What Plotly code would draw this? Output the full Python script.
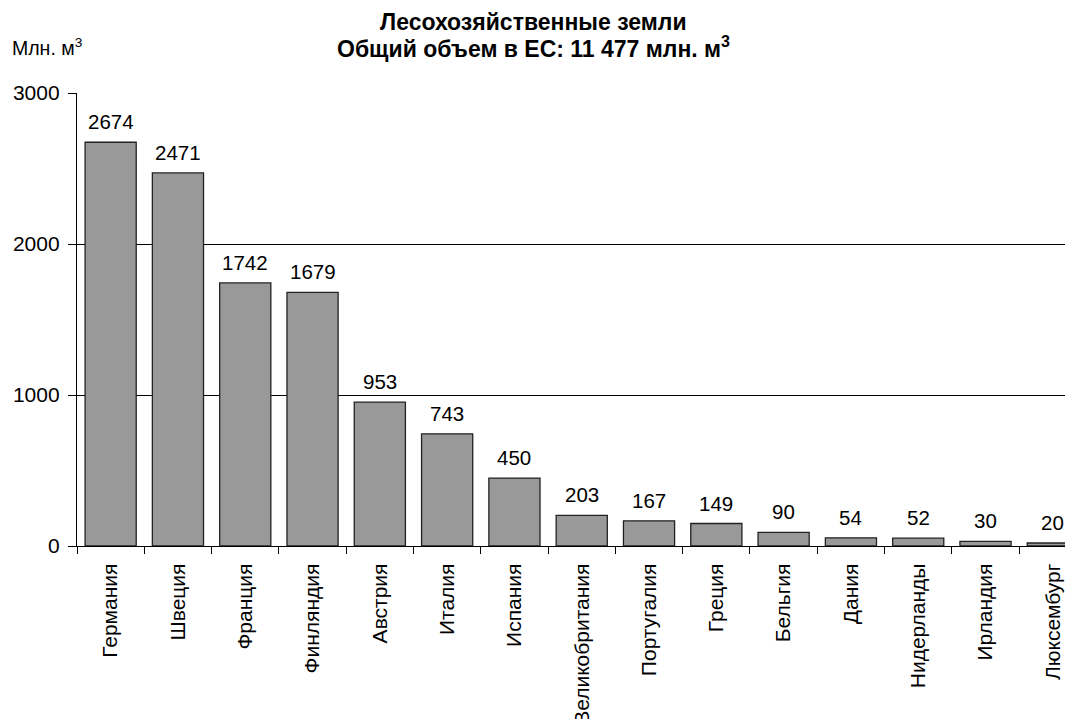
import plotly.graph_objects as go

countries = ["Германия", "Швеция", "Франция", "Финляндия", "Австрия", "Италия", "Испания",
             "Великобритания", "Португалия", "Греция", "Бельгия", "Дания", "Нидерланды",
             "Ирландия", "Люксембург"]
values = [2674, 2471, 1742, 1679, 953, 743, 450, 203, 167, 149, 90, 54, 52, 30, 20]
y_ticks = [0, 1000, 2000, 3000]

FONT = "Liberation Sans, Arial, sans-serif"
OFF = 8  # page body margin
W, H = 1073 - OFF, 719 - OFF
ML, MR, MT, MB = 77 - OFF, 0, 93 - OFF, 173
plot_h = H - MT - MB
plot_w = W - ML - MR

fig = go.Figure(go.Bar(
    x=countries, y=values,
    marker=dict(color="#999999", line=dict(color="#222222", width=1.3)),
))


def py(y):
    return (H - MB - (y - OFF)) / plot_h


def px(x):
    return ((x - OFF) - ML) / plot_w


annotations = [
    dict(text="<b>Лесохозяйственные земли</b>", x=px(533), y=py(22), xref="paper", yref="paper",
         yanchor="middle", showarrow=False, font=dict(size=23, family=FONT)),
    dict(text="<b>Общий объем в ЕС: 11 477 млн. м<sup>3</sup></b>", x=px(533), y=py(47),
         xref="paper", yref="paper", yanchor="middle", showarrow=False,
         font=dict(size=23, family=FONT)),
    dict(text="Млн. м<sup>3</sup>", x=px(10), y=py(47), xref="paper", yref="paper",
         xanchor="left", yanchor="middle", showarrow=False, font=dict(size=19.5, family=FONT)),
]
for c, v in zip(countries, values):
    annotations.append(dict(text=str(v), x=c, y=v, xref="x", yref="y", yanchor="bottom",
                            yshift=7, showarrow=False,
                            font=dict(size=20.5, family=FONT, color="black")))

fig.update_layout(
    width=W, height=H,
    margin=dict(l=ML, r=MR, t=MT, b=MB),
    plot_bgcolor="white", paper_bgcolor="white",
    bargap=0.24, showlegend=False,
    font=dict(family=FONT, size=19, color="black"),
    annotations=annotations,
)

fig.update_xaxes(
    type="category", tickangle=-90, tickson="boundaries", automargin=False,
    range=[-0.5, 14.3],
    ticks="outside", ticklen=7, tickcolor="black", ticklabelstandoff=8,
    showline=True, linecolor="black", linewidth=1.3,
    tickfont=dict(size=21, family=FONT),
)
fig.update_yaxes(
    range=[0, 3000], tickvals=y_ticks, ticks="outside", ticklen=8, tickcolor="black",
    automargin=False, ticklabelstandoff=4,
    showline=True, linecolor="black", linewidth=1.3,
    showgrid=True, gridcolor="black", gridwidth=1,
    tickfont=dict(size=21, family=FONT), zeroline=False,
)

fig.write_html("out.html")
